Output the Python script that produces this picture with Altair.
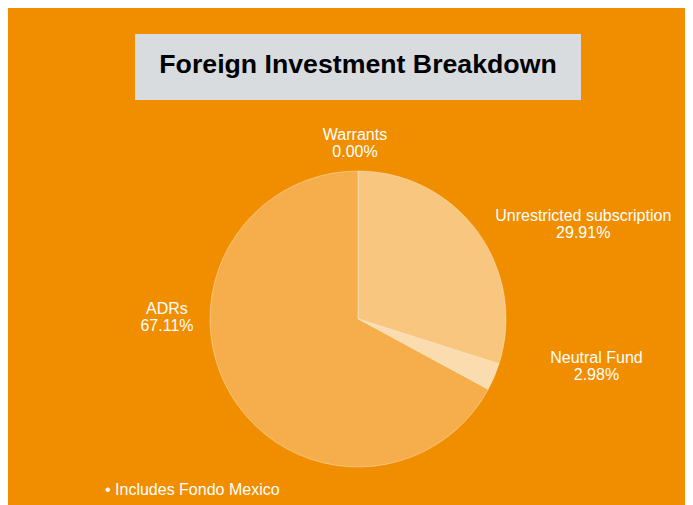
import altair as alt
import pandas as pd

# ---- data ----
categories = ["Warrants", "Unrestricted subscription", "Neutral Fund", "ADRs"]
shares = [0.00, 29.91, 2.98, 67.11]
slice_colors = ["#F8C67E", "#F8C67E", "#FADCAE", "#F5AE4B"]
title_text = ["Foreign Investment Breakdown"]
footnote_text = ["\u2022 Includes Fondo Mexico"]

df = pd.DataFrame({"category": categories, "share": shares, "idx": list(range(len(categories)))})
df["label"] = [f"{c}\n{v:.2f}%" for c, v in zip(categories, shares)]

W, H = 677, 497
CX, CY = 350, 311
R = 148
FONT = "Liberation Sans"
BG = "#F18E00"

base = alt.Chart(df)

pie = base.mark_arc(outerRadius=R, stroke="#FFFFFF", strokeWidth=1, strokeOpacity=0.35).encode(
    theta=alt.Theta("share:Q", stack=True),
    color=alt.Color("category:N", scale=alt.Scale(domain=categories, range=slice_colors), legend=None),
    order=alt.Order("idx:Q"),
    x=alt.value(CX),
    y=alt.value(CY),
)

label_offsets = {
    "Warrants": (-3, -14),
    "Unrestricted subscription": (88, -3),
    "Neutral Fund": (82, -28),
    "ADRs": (-45, -97),
}

lab_base = base.transform_window(
    cum="sum(share)", sort=[alt.SortField("idx")], frame=[None, 0]
).transform_calculate(mid="datum.cum - datum.share / 2")

label_layers = []
for cat in categories:
    dx, dy = label_offsets[cat]
    label_layers.append(
        lab_base.transform_filter(alt.datum.category == cat)
        .mark_text(radius=170, dx=dx, dy=dy, lineBreak="\n", lineHeight=17, fontSize=16,
                   font=FONT, color="white", align="center", baseline="middle")
        .encode(
            theta=alt.Theta("mid:Q", scale=alt.Scale(domain=[0, 100]), stack=False),
            text="label:N",
            x=alt.value(CX),
            y=alt.value(CY),
        )
    )

tdf = pd.DataFrame({"t": title_text})
title_box = alt.Chart(tdf).mark_rect(color="#D9DCDF").encode(
    x=alt.value(127), x2=alt.value(573), y=alt.value(26), y2=alt.value(92)
)
title = alt.Chart(tdf).mark_text(fontSize=26.7, fontWeight="bold", font=FONT, color="black",
                                 align="center", baseline="alphabetic").encode(
    text="t:N", x=alt.value(350), y=alt.value(65)
)

fdf = pd.DataFrame({"f": footnote_text})
footnote = alt.Chart(fdf).mark_text(fontSize=16, font=FONT, color="white",
                                    align="left", baseline="alphabetic").encode(
    text="f:N", x=alt.value(97), y=alt.value(487)
)

chart = alt.layer(pie, *label_layers, title_box, title, footnote).resolve_scale(
    theta="independent"
).properties(
    width=W, height=H, background=BG, padding=0, autosize="none"
).configure_view(stroke=None)

chart.save("out.html", embed_options={"renderer": "svg", "actions": False})
